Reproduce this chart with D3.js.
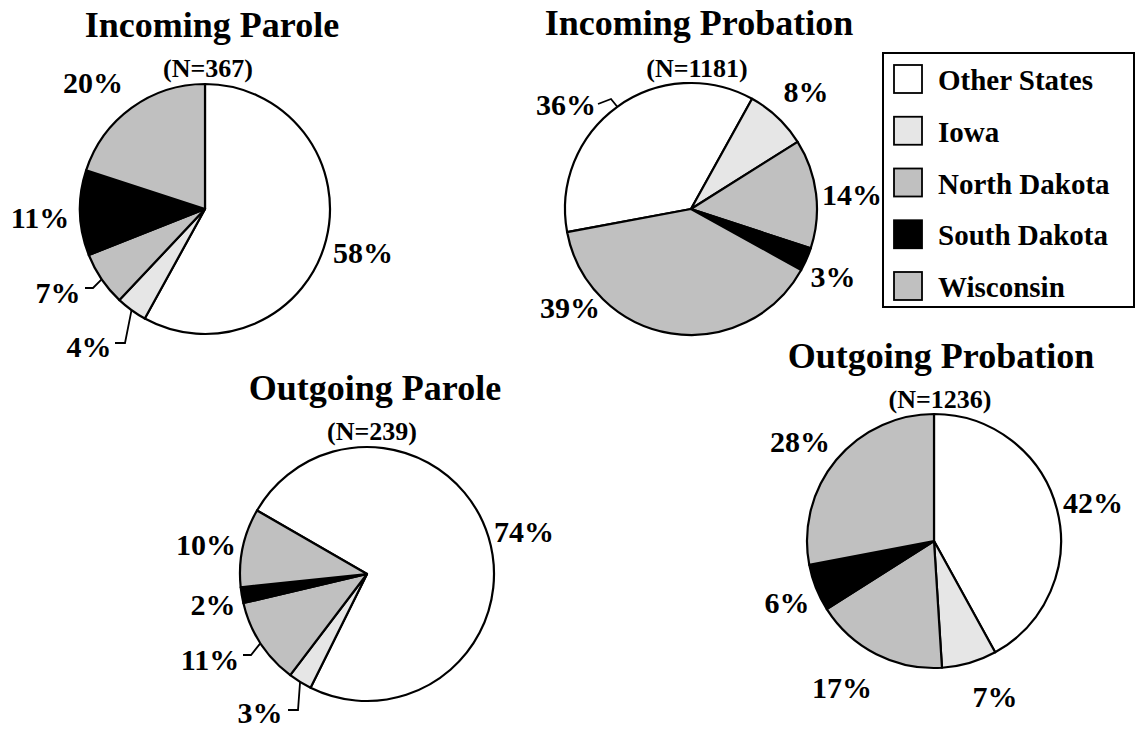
<!DOCTYPE html>
<html>
<head>
<meta charset="utf-8">
<script src="https://cdn.jsdelivr.net/npm/d3@7"></script>
<style>
  html, body { margin: 0; padding: 0; background: #fff; }
  svg { display: block; }
  text { font-family: "Liberation Serif", "Times New Roman", serif; font-weight: bold; fill: #000; }
</style>
</head>
<body>
<svg id="chart" width="1136" height="730"></svg>
<script>
// ---- data ----
const categories = ["Other States", "Iowa", "North Dakota", "South Dakota", "Wisconsin"];
const chartTitles = ["Incoming Parole", "Incoming Probation", "Outgoing Parole", "Outgoing Probation"];
const sampleSizes = [367, 1181, 239, 1236];
const incomingParole = [58, 4, 7, 11, 20];
const incomingProbation = [36, 8, 14, 3, 39];
const outgoingParole = [74, 3, 11, 2, 10];
const outgoingProbation = [42, 7, 17, 6, 28];
const seriesValues = [incomingParole, incomingProbation, outgoingParole, outgoingProbation];

// ---- styling / layout ----
const colors = ["#ffffff", "#e6e6e6", "#c0c0c0", "#000000", "#c0c0c0"];
const layout = [
  { cx: 205, cy: 209, r: 125, start: 0,
    title: [212, 37], n: [208, 77],
    labels: [[158, 54], [-116, 148], [-147, 94], [-165, 19], [-112, -116]],
    leaders: [null, [[-90, 134], [-80, 134]], [[-120, 79], [-112, 79]], null, null] },
  { cx: 691, cy: 209, r: 126, start: -100.6,
    title: [699, 35], n: [697, 77],
    labels: [[-125, -94], [115, -107], [161, -4], [142, 78], [-121, 109]],
    leaders: [[[-93, -105], [-80, -110]], null, null, null, null] },
  { cx: 367, cy: 574, r: 127, start: -60,
    title: [375, 400], n: [372, 440],
    labels: [[157, -32], [-107, 149], [-157, 96], [-154, 41], [-161, -19]],
    leaders: [null, [[-79, 136], [-69, 136]], [[-124, 81], [-116, 81]], null, null] },
  { cx: 934, cy: 541, r: 127, start: 0,
    title: [941, 368], n: [940, 408],
    labels: [[159, -28], [61, 166], [-92, 157], [-147, 72], [-134, -89]],
    leaders: [null, null, null, null, null] }
];

const svg = d3.select("#chart");
const color = d3.scaleOrdinal().domain(categories).range(colors);
const deg = Math.PI / 180;

seriesValues.forEach((vals, i) => {
  const L = layout[i];
  const data = categories.map((c, j) => ({ cat: c, value: vals[j] }));
  const pie = d3.pie().value(d => d.value).sort(null)
    .startAngle(L.start * deg).endAngle(L.start * deg + 2 * Math.PI);
  const arcs = pie(data);
  const arc = d3.arc().innerRadius(0).outerRadius(L.r);
  const g = svg.append("g").attr("transform", `translate(${L.cx},${L.cy})`);

  g.selectAll("path.slice").data(arcs).enter().append("path")
    .attr("class", "slice")
    .attr("d", arc)
    .attr("fill", d => color(d.data.cat))
    .attr("stroke", "#000")
    .attr("stroke-width", 2.2)
    .attr("stroke-linejoin", "round");

  // leader lines
  arcs.forEach((a, j) => {
    const ld = L.leaders[j];
    if (!ld) return;
    const mid = (a.startAngle + a.endAngle) / 2;
    const pt = [L.r * Math.sin(mid), -L.r * Math.cos(mid)];
    g.append("path")
      .attr("d", d3.line()([...ld, pt]))
      .attr("fill", "none").attr("stroke", "#000").attr("stroke-width", 1.8);
  });

  // percent labels
  g.selectAll("text.pct").data(arcs).enter().append("text")
    .attr("class", "pct")
    .attr("x", (d, j) => L.labels[j][0])
    .attr("y", (d, j) => L.labels[j][1])
    .attr("text-anchor", "middle")
    .attr("font-size", 30)
    .text(d => d.data.value + "%");

  svg.append("text")
    .attr("x", L.title[0]).attr("y", L.title[1])
    .attr("text-anchor", "middle").attr("font-size", 36)
    .text(chartTitles[i]);

  svg.append("text")
    .attr("x", L.n[0]).attr("y", L.n[1])
    .attr("text-anchor", "middle").attr("font-size", 26)
    .text(`(N=${sampleSizes[i]})`);
});

// ---- legend ----
const lg = svg.append("g").attr("transform", "translate(883,53)");
lg.append("rect").attr("x", 0).attr("y", 0).attr("width", 251).attr("height", 254)
  .attr("fill", "#fff").attr("stroke", "#000").attr("stroke-width", 2);
const row = d3.scalePoint().domain(categories).range([26, 233]);
categories.forEach(c => {
  const y = row(c);
  lg.append("rect").attr("x", 11).attr("y", y - 14).attr("width", 28).attr("height", 28)
    .attr("fill", color(c)).attr("stroke", "#000").attr("stroke-width", 1.8);
  lg.append("text").attr("x", 55).attr("y", y + 11).attr("font-size", 29).text(c);
});
</script>
</body>
</html>
